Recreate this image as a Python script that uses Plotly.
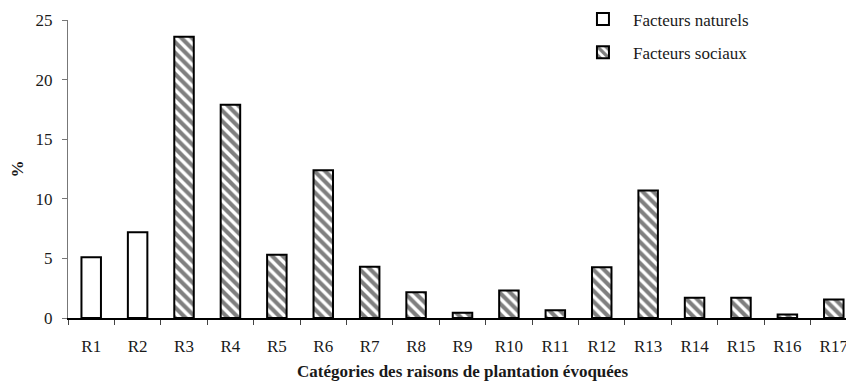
import plotly.graph_objects as go

# ── Data ──────────────────────────────────────────────────────────────────────
natural_cats = ["R1", "R2"]
natural_vals = [5.1, 7.2]

social_cats = ["R3", "R4", "R5", "R6", "R7", "R8", "R9", "R10", "R11",
               "R12", "R13", "R14", "R15", "R16", "R17"]
social_vals = [23.6, 17.9, 5.3, 12.4, 4.3, 2.15, 0.45, 2.3, 0.65,
               4.25, 10.7, 1.7, 1.7, 0.3, 1.55]

all_cats = natural_cats + social_cats
y_ticks = [0, 5, 10, 15, 20, 25]

FONT = "'Liberation Serif', Tinos, 'Times New Roman', 'DejaVu Serif', serif"

fig = go.Figure()

fig.add_trace(
    go.Bar(
        x=natural_cats,
        y=natural_vals,
        name="Facteurs naturels",
        legendgroup="nat",
        marker=dict(color="white", line=dict(color="black", width=2)),
    )
)

fig.add_trace(
    go.Bar(
        x=social_cats,
        y=social_vals,
        name="Facteurs sociaux",
        legendgroup="soc",
        marker=dict(
            color="white",
            line=dict(color="black", width=2),
            pattern=dict(shape="\\", fgcolor="black", bgcolor="white",
                         size=7.5, solidity=0.55),
        ),
    )
)

# the page body adds an 8px offset, so margins are shifted by that much
fig.update_layout(
    width=854,
    height=391,
    barmode="overlay",
    bargap=0.58,
    paper_bgcolor="white",
    plot_bgcolor="white",
    font=dict(family=FONT, color="#1a1a1a", size=17),
    margin=dict(l=60, r=5, t=12, b=81, autoexpand=False),
    showlegend=True,
    legend=dict(
        x=0.64, y=1.062, xanchor="left", yanchor="top",
        font=dict(size=17),
        tracegroupgap=8,
        itemwidth=50,
        bgcolor="rgba(0,0,0,0)",
    ),
    xaxis=dict(
        type="category",
        categoryorder="array",
        categoryarray=all_cats,
        range=[-0.5, len(all_cats) - 0.5],
        automargin=False,
        showline=True, linecolor="black", linewidth=1.5,
        ticks="outside", ticklen=5, tickcolor="#444",
        tickson="boundaries",
        ticklabelstandoff=12,
        showgrid=False,
        title=dict(
            text="<b>Catégories des raisons de plantation évoquées</b>",
            font=dict(size=17), standoff=10,
        ),
    ),
    yaxis=dict(
        range=[0, 25],
        tickvals=y_ticks,
        automargin=False,
        showline=True, linecolor="#777", linewidth=1,
        ticks="outside", ticklen=5, tickcolor="#777",
        ticklabelstandoff=6,
        showgrid=False, zeroline=False,
        title=dict(text="<b>%</b>", font=dict(size=17), standoff=18),
    ),
)

fig.write_html("out.html")
